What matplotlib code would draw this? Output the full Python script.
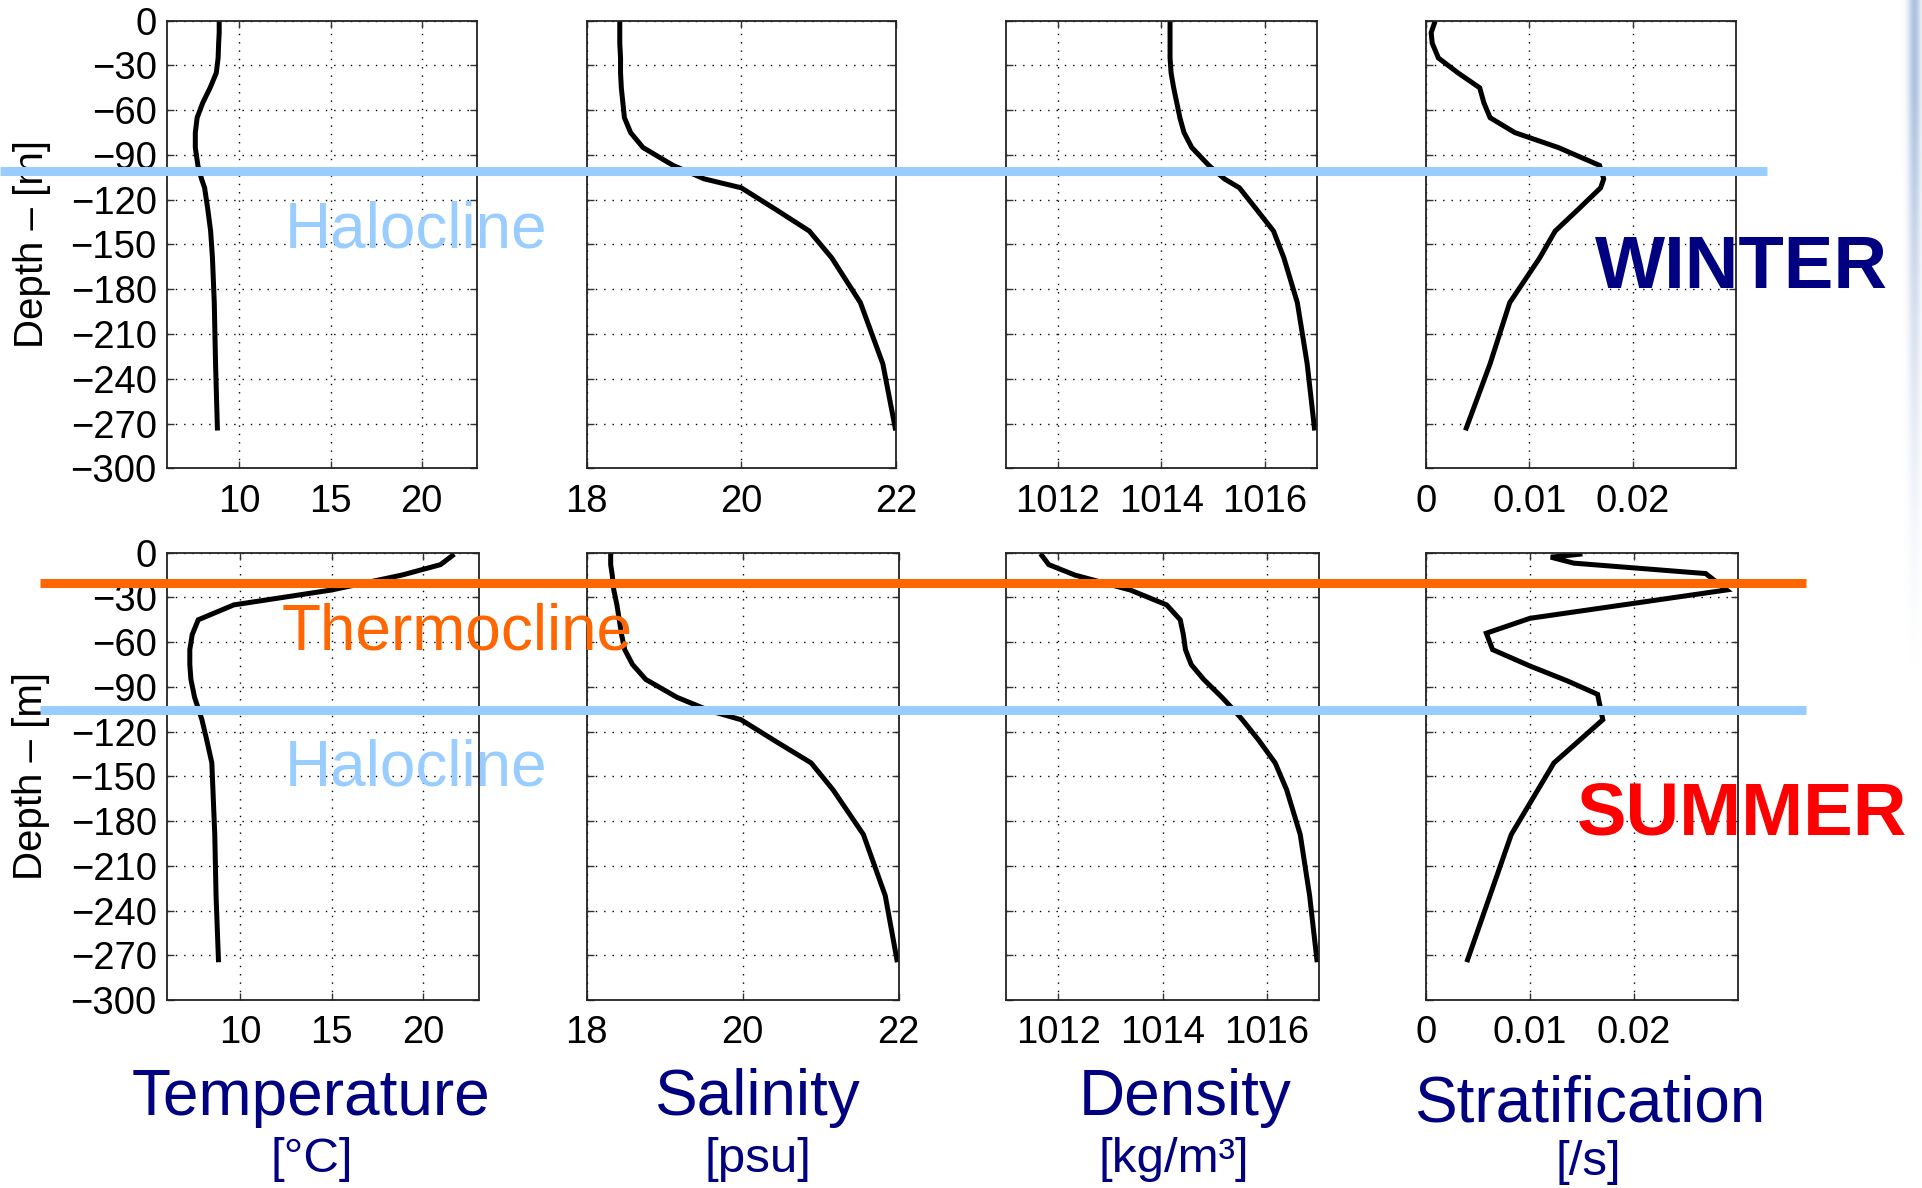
import numpy as np
import matplotlib.pyplot as plt
import matplotlib.transforms as mtransforms
from matplotlib.lines import Line2D

plt.rcParams['font.family'] = ['Liberation Sans', 'DejaVu Sans']
plt.rcParams['axes.unicode_minus'] = True

# Depth levels (m) shared by the T / S / density profiles and winter stratification
depth = [-2, -8, -15, -25, -35, -45, -55, -65, -75, -85, -97, -106, -112,
         -126, -141, -159, -189, -230, -273]

temp_winter = [8.89, 8.89, 8.86, 8.83, 8.73, 8.39, 7.99, 7.68, 7.58, 7.58, 7.72,
               7.92, 8.09, 8.26, 8.42, 8.52, 8.62, 8.69, 8.79]
sal_winter = [18.43, 18.43, 18.43, 18.44, 18.44, 18.45, 18.47, 18.49, 18.57, 18.73,
              19.12, 19.52, 20.00, 20.43, 20.88, 21.17, 21.54, 21.83, 21.99]
dens_winter = [1014.17, 1014.17, 1014.17, 1014.17, 1014.19, 1014.24, 1014.30, 1014.36,
               1014.44, 1014.59, 1014.92, 1015.22, 1015.51, 1015.83, 1016.17, 1016.37,
               1016.63, 1016.82, 1016.96]
strat_winter = [0.0008, 0.0005, 0.0006, 0.0012, 0.0031, 0.0052, 0.0056, 0.0062, 0.0086,
                0.0128, 0.0168, 0.0172, 0.0169, 0.0148, 0.0125, 0.0110, 0.0081, 0.0062,
                0.0039]

temp_summer = [21.57, 20.93, 18.83, 15.00, 9.67, 7.73, 7.40, 7.27, 7.27, 7.33, 7.53,
               7.77, 7.93, 8.20, 8.47, 8.53, 8.63, 8.70, 8.83]
sal_summer = [18.31, 18.31, 18.33, 18.35, 18.39, 18.42, 18.45, 18.49, 18.59, 18.76,
              19.16, 19.58, 19.98, 20.41, 20.88, 21.16, 21.55, 21.83, 21.98]
dens_summer = [1011.69, 1011.82, 1012.32, 1013.38, 1014.08, 1014.34, 1014.40, 1014.44,
               1014.55, 1014.79, 1015.14, 1015.38, 1015.53, 1015.85, 1016.16, 1016.38,
               1016.64, 1016.82, 1016.96]

# summer stratification has its own depth levels
depth_strat_summer = [-1, -3, -7, -14, -25, -44, -54, -65, -76, -86, -95, -112,
                      -141, -189, -273]
strat_summer = [0.0148, 0.0120, 0.0142, 0.0269, 0.0289, 0.0100, 0.0058, 0.0064, 0.0100,
                0.0136, 0.0165, 0.0170, 0.0123, 0.0082, 0.0040]

# depth of the highlighted clines
halocline_winter = -101
thermocline_summer = -20.6
halocline_summer = -105.5

titles = ['Temperature', 'Salinity', 'Density', 'Stratification']
units = ['[°C]', '[psu]', '[kg/m³]', '[/s]']
xlims = [(6, 23), (18, 22), (1011, 1017), (0, 0.03)]
xticks = [[10, 15, 20], [18, 20, 22], [1012, 1014, 1016], [0, 0.01, 0.02]]
xticklabels = [['10', '15', '20'], ['18', '20', '22'],
               ['1012', '1014', '1016'], ['0', '0.01', '0.02']]

W, H = 1922, 1188
fig = plt.figure(figsize=(W / 100, H / 100), dpi=100)


def add_px_axes(x0, x1, y0, y1):
    return fig.add_axes([x0 / W, 1 - y1 / H, (x1 - x0) / W, (y1 - y0) / H])


cols = [[(166.5, 476.5), (586.5, 896), (1006, 1316.5), (1426, 1736)],
        [(166.5, 478.5), (586.5, 898.5), (1006, 1319), (1426, 1738)]]
rows = [(20.7, 468.3), (552.7, 1000)]

profiles = [
    [(temp_winter, depth), (sal_winter, depth), (dens_winter, depth), (strat_winter, depth)],
    [(temp_summer, depth), (sal_summer, depth), (dens_summer, depth),
     (strat_summer, depth_strat_summer)],
]

row_axes = []
for r in range(2):
    axes = []
    for c in range(4):
        ax = add_px_axes(cols[r][c][0], cols[r][c][1], rows[r][0], rows[r][1])
        x, z = profiles[r][c]
        ax.plot(x, z, color='black', lw=3.6, solid_joinstyle='miter')
        ax.set_xlim(xlims[c])
        ax.set_ylim(-300, 0)
        ax.set_xticks(xticks[c])
        ax.set_xticklabels(xticklabels[c])
        ax.set_yticks(np.arange(-300, 1, 30))
        ax.grid(True, color='black', linestyle=(0, (1, 5)), lw=1.0)
        ax.tick_params(direction='in', top=True, right=True, length=5, width=1,
                       labelsize=27.5, color='#333333')
        ax.tick_params(axis='x', pad=11)
        ax.tick_params(axis='y', pad=7)
        for s in ax.spines.values():
            s.set_linewidth(1.3)
            s.set_color('#222222')
        if c == 0:
            ax.set_ylabel('Depth – [m]', fontsize=29)
            ax.yaxis.set_label_coords(-0.372, 0.5)
        else:
            ax.set_yticklabels([])
        axes.append(ax)
    row_axes.append(axes)


def cline(ax, z, color, x0, x1):
    tr = mtransforms.blended_transform_factory(fig.transFigure, ax.transData)
    fig.add_artist(Line2D([x0 / W, x1 / W], [z, z], transform=tr, color=color,
                          lw=6.5, solid_capstyle='butt', zorder=10))


cline(row_axes[0][0], halocline_winter, '#99ccff', 0, 1767)
cline(row_axes[1][0], thermocline_summer, '#ff6600', 40, 1806)
cline(row_axes[1][0], halocline_summer, '#99ccff', 40, 1806)


def ftext(x, y, s, **kw):
    fig.text(x / W, 1 - y / H, s, ha='center', va='baseline', zorder=11, **kw)


ftext(416, 248, 'Halocline', fontsize=46, color='#99ccff')
ftext(416, 785, 'Halocline', fontsize=46, color='#99ccff')
ftext(457, 650, 'Thermocline', fontsize=46, color='#ff6600')
ftext(1741, 288, 'WINTER', fontsize=53.5, color='#000080', fontweight='bold')
ftext(1742, 835, 'SUMMER', fontsize=53.5, color='#ff0000', fontweight='bold')

title_x = [311, 757, 1185, 1590]
title_y = [1115, 1115, 1115, 1121]
unit_x = [312, 758, 1174, 1588]
unit_y = [1172, 1172, 1172, 1175]
for i in range(4):
    ftext(title_x[i], title_y[i], titles[i], fontsize=46, color='#000080')
    ftext(unit_x[i], unit_y[i], units[i], fontsize=35.5, color='#000080')

# faint blurred strip along the right edge
gax = fig.add_axes([1893 / W, 1 - 720 / H, 29 / W, 720 / H])
gax.axis('off')
gx = np.linspace(0, 1, 40)
gy = np.linspace(0, 1, 200)
horiz = np.exp(-((gx - 0.75) / 0.22) ** 2)
vert = np.clip(1.15 - gy * 1.2, 0, 1) ** 1.5
rgba = np.zeros((200, 40, 4))
rgba[..., 0] = 0.60
rgba[..., 1] = 0.70
rgba[..., 2] = 0.85
rgba[..., 3] = np.outer(vert, horiz) * 0.8
gax.imshow(rgba, aspect='auto', extent=(0, 1, 0, 1))

fig.savefig('out.png', dpi=100)
